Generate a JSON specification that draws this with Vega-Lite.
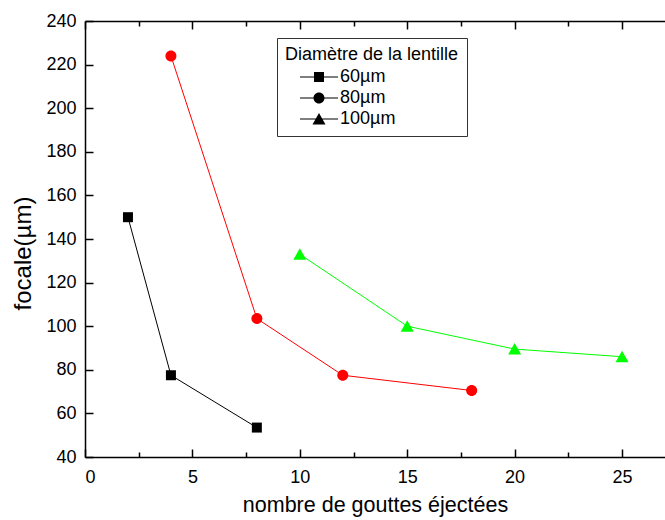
{
  "$schema": "https://vega.github.io/schema/vega-lite/v6.json",
  "width": 580,
  "height": 436,
  "autosize": {"type": "none"},
  "padding": {"left": 85, "top": 21, "right": 0, "bottom": 63},
  "background": "white",
  "config": {
    "view": {"stroke": null},
    "font": "Liberation Sans",
    "axis": {
      "grid": false,
      "domainColor": "black",
      "domainWidth": 1.5,
      "tickColor": "black",
      "tickWidth": 1.5,
      "labelColor": "black",
      "titleColor": "black",
      "labelFont": "Liberation Sans",
      "titleFont": "Liberation Sans",
      "titleFontWeight": "normal",
      "labelFontSize": 18,
      "titleFontSize": 21.5
    },
    "legend": {
      "labelFont": "Liberation Sans",
      "titleFont": "Liberation Sans"
    }
  },
  "data": {
    "values": [
      {"d": "60µm", "x": 2, "y": 150},
      {"d": "60µm", "x": 4, "y": 77.5},
      {"d": "60µm", "x": 8, "y": 53.5},
      {"d": "80µm", "x": 4, "y": 224},
      {"d": "80µm", "x": 8, "y": 103.5},
      {"d": "80µm", "x": 12, "y": 77.5},
      {"d": "80µm", "x": 18, "y": 70.5},
      {"d": "100µm", "x": 10, "y": 133},
      {"d": "100µm", "x": 15, "y": 100},
      {"d": "100µm", "x": 20, "y": 89.5},
      {"d": "100µm", "x": 25, "y": 86}
    ]
  },
  "layer": [
    {
      "mark": {"type": "line", "strokeWidth": 1},
      "encoding": {
        "x": {
          "field": "x", "type": "quantitative",
          "scale": {"domain": [0, 27], "nice": false, "zero": false},
          "axis": {
            "orient": "top",
            "offset": -436,
            "title": "nombre de gouttes éjectées",
            "titleY": 48,
            "titleBaseline": "middle",
            "values": [0, 2.5, 5, 7.5, 10, 12.5, 15, 17.5, 20, 22.5, 25],
            "labelExpr": "datum.value % 5 === 0 ? datum.label : ''",
            "tickSize": {"condition": {"test": "datum.value % 5 === 0", "value": 8}, "value": 5},
            "labelBaseline": "top",
            "labelPadding": -19
          }
        },
        "y": {
          "field": "y", "type": "quantitative",
          "scale": {"domain": [40, 240], "nice": false, "zero": false},
          "axis": {
            "orient": "right",
            "offset": -580,
            "title": "focale(µm)",
            "titleFontSize": 24,
            "titleAngle": -90,
            "titleX": -62,
            "titleY": 232,
            "titleAlign": "center",
            "titleBaseline": "middle",
            "values": [40, 50, 60, 70, 80, 90, 100, 110, 120, 130, 140, 150, 160, 170, 180, 190, 200, 210, 220, 230, 240],
            "labelExpr": "datum.value % 20 === 0 ? datum.label : ''",
            "tickSize": {"condition": {"test": "datum.value % 20 === 0", "value": 8}, "value": 5},
            "labelAlign": "right",
            "labelBaseline": "middle",
            "labelPadding": -17
          }
        },
        "color": {
          "field": "d", "type": "nominal",
          "scale": {"domain": ["60µm", "80µm", "100µm"], "range": ["#000000", "#ff0000", "#00ff00"]},
          "legend": null
        }
      }
    },
    {
      "mark": {"type": "point", "filled": true, "opacity": 1, "size": 100},
      "encoding": {
        "x": {
          "field": "x", "type": "quantitative",
          "axis": {
            "orient": "bottom",
            "offset": -436,
            "title": null,
            "labels": false,
            "values": [0, 2.5, 5, 7.5, 10, 12.5, 15, 17.5, 20, 22.5, 25],
            "tickSize": {"condition": {"test": "datum.value % 5 === 0", "value": 8}, "value": 5}
          }
        },
        "y": {"field": "y", "type": "quantitative"},
        "color": {"field": "d", "type": "nominal", "legend": null},
        "shape": {
          "field": "d", "type": "nominal",
          "scale": {
            "domain": ["60µm", "80µm", "100µm"],
            "range": [
              "M-1,-1H1V1H-1Z",
              "M-1.1,0A1.1,1.1,0,1,1,1.1,0A1.1,1.1,0,1,1,-1.1,0Z",
              "M0,-1.2L1.3,1.1L-1.3,1.1Z"
            ]
          },
          "legend": null
        }
      }
    },
    {
      "transform": [{"filter": "datum.x > 1000"}],
      "mark": {"type": "point", "filled": true, "opacity": 1, "size": 100},
      "encoding": {
        "fill": {
          "field": "d", "type": "nominal",
          "scale": {"domain": ["60µm", "80µm", "100µm"], "range": ["#000000", "#ff0000", "#00ff00"]},
          "legend": {
            "title": "Diamètre de la lentille",
            "orient": "none",
            "legendX": 192,
            "legendY": 17,
            "padding": 8,
            "strokeColor": "#333333",
            "titleFontSize": 18,
            "titleFontWeight": "normal",
            "titleColor": "black",
            "labelFontSize": 18,
            "labelColor": "black",
            "titlePadding": 4,
            "rowPadding": 3,
            "symbolSize": 100,
            "symbolOffset": 25,
            "labelOffset": 12,
            "encode": {"title": {"update": {"dx": {"value": 12}}}}
          }
        },
        "shape": {
          "field": "d", "type": "nominal",
          "scale": {
            "domain": ["60µm", "80µm", "100µm"],
            "range": [
              "M-3.8,-0.1H3.8V0.1H-3.8ZM-1,-1H1V1H-1Z",
              "M-3.8,-0.1H3.8V0.1H-3.8ZM-1.1,0A1.1,1.1,0,1,1,1.1,0A1.1,1.1,0,1,1,-1.1,0Z",
              "M-3.8,-0.1H3.8V0.1H-3.8ZM0,-1.2L1.3,1.1L-1.3,1.1Z"
            ]
          },
          "legend": {
            "title": "Diamètre de la lentille",
            "orient": "none",
            "legendX": 192,
            "legendY": 17,
            "padding": 8,
            "strokeColor": "#333333",
            "titleFontSize": 18,
            "titleFontWeight": "normal",
            "titleColor": "black",
            "labelFontSize": 18,
            "labelColor": "black",
            "titlePadding": 4,
            "rowPadding": 3,
            "symbolSize": 100,
            "symbolOffset": 25,
            "labelOffset": 12,
            "encode": {"title": {"update": {"dx": {"value": 12}}}}
          }
        }
      }
    }
  ],
  "resolve": {"axis": {"x": "independent"}, "scale": {"shape": "independent"}}
}
